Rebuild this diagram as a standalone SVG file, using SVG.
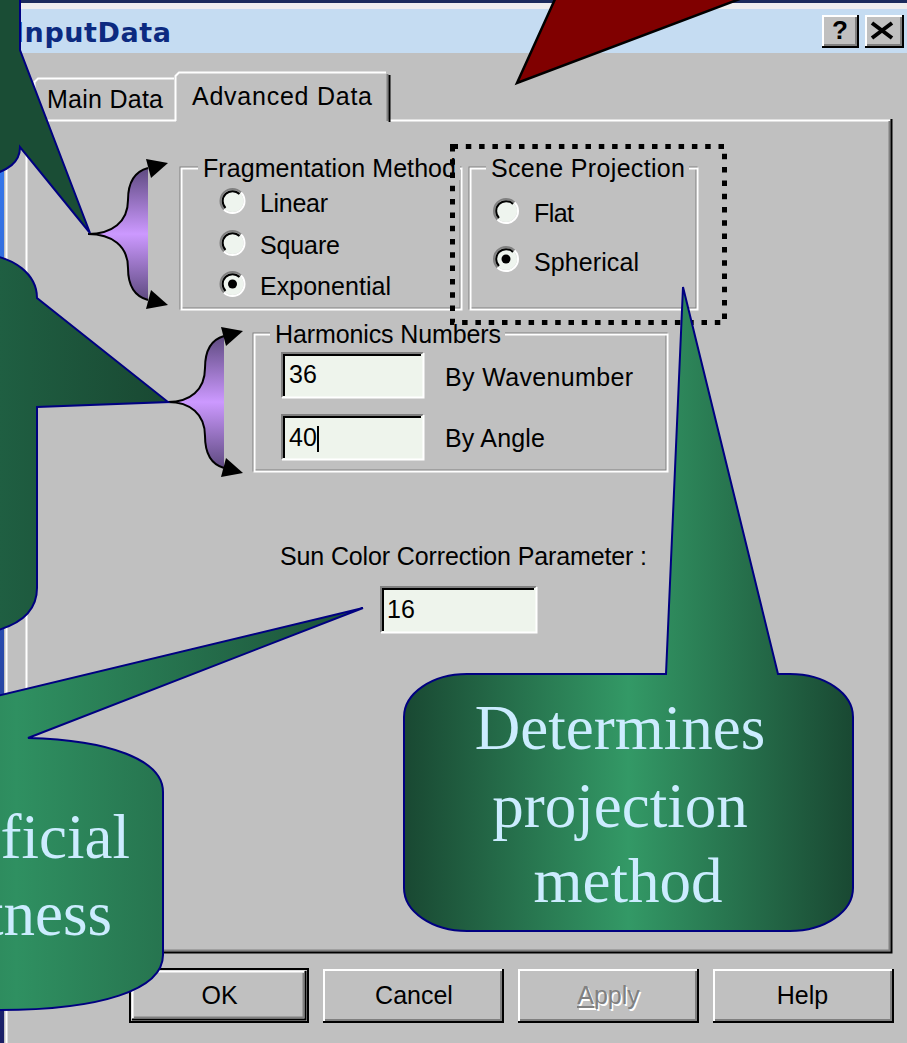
<svg xmlns="http://www.w3.org/2000/svg" width="907" height="1043" viewBox="0 0 907 1043">
<defs>
<linearGradient id="gBlue" x1="0" y1="0" x2="0" y2="1">
<stop offset="0" stop-color="#3A86FF"/><stop offset="0.55" stop-color="#2B52B8"/><stop offset="1" stop-color="#1A1F66"/>
</linearGradient>
<linearGradient id="gBrace" x1="0" y1="0" x2="0" y2="1">
<stop offset="0" stop-color="#5E4A80"/><stop offset="0.5" stop-color="#CC99FF"/><stop offset="1" stop-color="#5E4A80"/>
</linearGradient>
<linearGradient id="gProj" gradientUnits="userSpaceOnUse" x1="404" y1="0" x2="853" y2="0">
<stop offset="0" stop-color="#194832"/><stop offset="0.5" stop-color="#339966"/><stop offset="1" stop-color="#194832"/>
</linearGradient>
<linearGradient id="gArt" gradientUnits="userSpaceOnUse" x1="-330" y1="0" x2="363" y2="0">
<stop offset="0" stop-color="#1A4A34"/><stop offset="0.5" stop-color="#2F9061"/><stop offset="1" stop-color="#1B4F37"/>
</linearGradient>
<linearGradient id="gMid" gradientUnits="userSpaceOnUse" x1="0" y1="0" x2="168" y2="0">
<stop offset="0" stop-color="#1F5F42"/><stop offset="1" stop-color="#194832"/>
</linearGradient>
<g id="radio">
<circle r="11" fill="#EEF4EE"/>
<path d="M-8.5,8.5 A12,12 0 0 1 8.5,-8.5" stroke="#808080" stroke-width="2" fill="none"/>
<path d="M-7,7 A9.9,9.9 0 0 1 7,-7" stroke="#000" stroke-width="2" fill="none"/>
<path d="M8.5,-8.5 A12,12 0 0 1 -8.5,8.5" stroke="#fff" stroke-width="2" fill="none"/>
</g>
<circle id="dot" r="4.5" fill="#000"/>
</defs>
<style>
.ui{font-family:"Liberation Sans",Arial,sans-serif;font-size:25px;fill:#000}
.btxt{font-family:"Liberation Sans",Arial,sans-serif;font-size:25px;fill:#000;text-anchor:middle}
.call{stroke:#000080;stroke-width:2}
.ctext{font-family:"Liberation Serif","Times New Roman",serif;font-size:63px;fill:#CCECFF}
.hl{stroke:#fff;stroke-width:2;fill:none}
.sh{stroke:#808080;stroke-width:2;fill:none}
.dk{stroke:#000;stroke-width:2;fill:none}
.lt{stroke:#DCDCDC;stroke-width:2;fill:none}
.edit{fill:#EEF4EC}
.gray{fill:#C0C0C0}
</style>

<!-- background -->
<rect x="0" y="0" width="907" height="1043" fill="#C0C0C0"/>
<rect x="0" y="0" width="4" height="1043" fill="url(#gBlue)"/>
<line x1="6.5" y1="53" x2="6.5" y2="1043" class="hl"/>

<!-- title bar -->
<g id="titlebar">
<rect x="0" y="0" width="907" height="3" fill="#1B2B5C"/>
<rect x="0" y="3" width="907" height="6" fill="#EEEEEE"/>
<rect x="0" y="9" width="907" height="44" fill="#C5DCF2"/>
<text x="14" y="42" font-family="DejaVu Sans,Verdana,sans-serif" font-weight="bold" font-size="27" fill="#0C2A80" textLength="157">InputData</text>
<g id="btn-help-title">
<rect x="822" y="15" width="36" height="32" fill="#C0C0C0"/>
<path d="M823,46 V16 H857" class="hl"/>
<path d="M822,47 H858 V15" class="dk"/>
<path d="M824,45 H856 V17" class="sh"/>
<text x="840" y="39" text-anchor="middle" font-family="Liberation Sans,Arial,sans-serif" font-weight="bold" font-size="26" fill="#000">?</text>
</g>
<g id="btn-close-title">
<rect x="865" y="15" width="38" height="32" fill="#C0C0C0"/>
<path d="M866,46 V16 H902" class="hl"/>
<path d="M865,47 H903 V15" class="dk"/>
<path d="M867,45 H901 V17" class="sh"/>
<path d="M872,23 L892,38 M892,23 L872,38" stroke="#000" stroke-width="4"/>
</g>
</g>

<!-- tabs and panel -->
<g id="panel">
<path d="M26.5,952 V120.5 H176" class="hl"/>
<path d="M388,120.5 H890" class="hl"/>
<path d="M889.5,121 V950.5 H27" class="sh"/>
<path d="M891.5,119 V952.5 H26" class="dk"/>
</g>
<g id="tab-main">
<path d="M34.5,120 V82 L38,78.5 H174" class="hl"/>
<text class="ui" x="47" y="108" textLength="116">Main Data</text>
</g>
<g id="tab-advanced">
<path d="M175.5,121 V76 L179,72.5 H386" class="hl"/>
<path d="M387.5,74 V121" class="sh"/>
<path d="M389.5,75 V122" class="dk"/>
<text class="ui" x="192" y="105" textLength="180">Advanced Data</text>
</g>

<!-- Fragmentation Method -->
<g id="group-fragmentation">
<rect x="180.5" y="167.5" width="280" height="141" class="sh"/>
<rect x="181.5" y="168.5" width="280" height="141" class="hl"/>
<rect x="198" y="158" width="262" height="22" class="gray"/>
<text class="ui" x="203" y="177" textLength="253">Fragmentation Method</text>
<use href="#radio" x="232.5" y="201"/>
<text class="ui" x="260" y="212" textLength="68">Linear</text>
<use href="#radio" x="232.5" y="243"/>
<text class="ui" x="260" y="254" textLength="80">Square</text>
<use href="#radio" x="232.5" y="284"/>
<use href="#dot" x="232.5" y="284"/>
<text class="ui" x="260" y="295" textLength="131">Exponential</text>
</g>

<!-- Scene Projection -->
<g id="group-scene">
<rect x="469.5" y="167.5" width="227" height="141" class="sh"/>
<rect x="470.5" y="168.5" width="227" height="141" class="hl"/>
<rect x="486" y="158" width="203" height="22" class="gray"/>
<text class="ui" x="491" y="177" textLength="194">Scene Projection</text>
<use href="#radio" x="506" y="211"/>
<text class="ui" x="534" y="222" textLength="40">Flat</text>
<use href="#radio" x="506" y="259"/>
<use href="#dot" x="506" y="259"/>
<text class="ui" x="534" y="271" textLength="105">Spherical</text>
</g>

<rect id="highlight-box" x="452.5" y="146.5" width="272" height="176" fill="none" stroke="#000" stroke-width="5" stroke-dasharray="5.5 7.8"/>

<!-- Harmonics Numbers -->
<g id="group-harmonics">
<rect x="253.5" y="333.5" width="413" height="137" class="sh"/>
<rect x="254.5" y="334.5" width="413" height="137" class="hl"/>
<rect x="270" y="325" width="235" height="20" class="gray"/>
<text class="ui" x="275" y="343" textLength="226">Harmonics Numbers</text>
<g id="edit-36">
<rect x="282" y="353" width="141" height="44" class="edit"/>
<path d="M282,397 V353 H423" class="sh"/>
<path d="M284,396 V355 H421" class="dk"/>
<path d="M282,397.5 H423.5 V353" class="hl"/>
<text class="ui" x="289" y="383" textLength="28">36</text>
</g>
<text class="ui" x="445" y="386" textLength="188">By Wavenumber</text>
<g id="edit-40">
<rect x="282" y="415" width="141" height="44" class="edit"/>
<path d="M282,459 V415 H423" class="sh"/>
<path d="M284,458 V417 H421" class="dk"/>
<path d="M282,459.5 H423.5 V415" class="hl"/>
<text class="ui" x="289" y="446" textLength="28">40</text>
<line x1="318" y1="426" x2="318" y2="452" stroke="#000" stroke-width="2"/>
</g>
<text class="ui" x="445" y="447" textLength="100">By Angle</text>
</g>

<!-- Sun color -->
<g id="sun-color">
<text class="ui" x="280" y="565" textLength="367">Sun Color Correction Parameter :</text>
<rect x="381" y="587" width="155" height="45" class="edit"/>
<path d="M381,632 V587 H536" class="sh"/>
<path d="M383,631 V589 H534" class="dk"/>
<path d="M381,632.5 H536.5 V587" class="hl"/>
<text class="ui" x="387" y="618" textLength="28">16</text>
</g>

<!-- bottom buttons -->
<g id="btn-ok">
<rect x="130" y="969" width="178" height="53" fill="#C0C0C0" stroke="#000" stroke-width="2"/>
<path d="M132.5,1019 V971.5 H305" class="hl"/>
<path d="M132,1019.5 H305.5 V971" class="dk"/>
<path d="M134,1017.5 H303.5 V973" class="sh"/>
<text class="btxt" x="219.5" y="1004">OK</text>
</g>
<g id="btn-cancel">
<rect x="323" y="969" width="180" height="53" fill="#C0C0C0"/>
<path d="M324,1021 V970 H502" class="hl"/>
<path d="M323,1022 H503 V969" class="dk"/>
<path d="M325,1020 H501 V971" class="sh"/>
<text class="btxt" x="414" y="1004">Cancel</text>
</g>
<g id="btn-apply">
<rect x="518" y="969" width="180" height="53" fill="#C0C0C0"/>
<path d="M519,1021 V970 H697" class="hl"/>
<path d="M518,1022 H698 V969" class="dk"/>
<path d="M520,1020 H696 V971" class="sh"/>
<text class="btxt" x="610" y="1006" style="fill:#fff">Apply</text>
<line x1="579" y1="1009" x2="596" y2="1009" stroke="#fff" stroke-width="2"/>
<text class="btxt" x="608.5" y="1004" style="fill:#808080">Apply</text>
<line x1="577" y1="1007" x2="594" y2="1007" stroke="#808080" stroke-width="2"/>
</g>
<g id="btn-help">
<rect x="713" y="969" width="180" height="53" fill="#C0C0C0"/>
<path d="M714,1021 V970 H892" class="hl"/>
<path d="M713,1022 H893 V969" class="dk"/>
<path d="M715,1020 H891 V971" class="sh"/>
<text class="btxt" x="802.5" y="1004">Help</text>
</g>

<!-- connectors: braces -->
<g id="connectors">
<g id="brace-1">
<path d="M148,168 C133,172 128,185 128,200 C128,222 112,234 88,234 C112,234 128,246 128,268 C128,283 133,296 148,300 Z" fill="url(#gBrace)"/>
<path d="M148,168 C133,172 128,185 128,200 C128,222 112,234 88,234 C112,234 128,246 128,268 C128,283 133,296 148,300" fill="none" stroke="#000" stroke-width="2"/>
<polygon points="168,163 151,178 146,159" fill="#000"/>
<polygon points="168,305 151,290 146,309" fill="#000"/>
</g>
<g id="brace-2">
<path d="M224,336 C210,340 205,352 205,368 C205,390 190,402 168,402 C190,402 205,414 205,436 C205,452 210,464 224,468 Z" fill="url(#gBrace)"/>
<path d="M224,336 C210,340 205,352 205,368 C205,390 190,402 168,402 C190,402 205,414 205,436 C205,452 210,464 224,468" fill="none" stroke="#000" stroke-width="2"/>
<polygon points="243,331 226,346 221,327" fill="#000"/>
<polygon points="243,473 226,458 221,477" fill="#000"/>
</g>
</g>

<!-- callouts -->
<g id="callout-top-left">
<path class="call" d="M-20,-10 L20,-10 L20,50 L90,233 L20,147 C20,161 11,171 -20,178 Z" fill="#1A4D35"/>
</g>
<g id="callout-mid-left">
<path class="call" d="M-20,254 C15,256 37,275 37,298 L168,402 L37,407 L37,588 C37,612 18,628 -20,634 Z" fill="url(#gMid)"/>
</g>
<g id="callout-artificial">
<path class="call" d="M-20,700 L363,608 L28,738 C110,740 163,760 163,792 L163,955 C163,990 100,1010 0,1010 L-20,1010 Z" fill="url(#gArt)"/>
<text class="ctext" x="130" y="858" text-anchor="end">ficial</text>
<text class="ctext" x="112" y="935" text-anchor="end">tness</text>
</g>
<g id="callout-projection">
<path class="call" d="M404,717 A63,43 0 0 1 467,674 L666,674 L683,287 L778,674 L790,674 A63,43 0 0 1 853,717 L853,888 A63,43 0 0 1 790,931 L467,931 A63,43 0 0 1 404,888 Z" fill="url(#gProj)"/>
<text class="ctext" x="620" y="749" text-anchor="middle">Determines</text>
<text class="ctext" x="620" y="827" text-anchor="middle">projection</text>
<text class="ctext" x="628" y="902" text-anchor="middle">method</text>
</g>
<g id="callout-red">
<polygon points="517,83 556,-3 745,-3" fill="#800000" stroke="#000" stroke-width="2.5" stroke-linejoin="miter"/>
</g>
</svg>
